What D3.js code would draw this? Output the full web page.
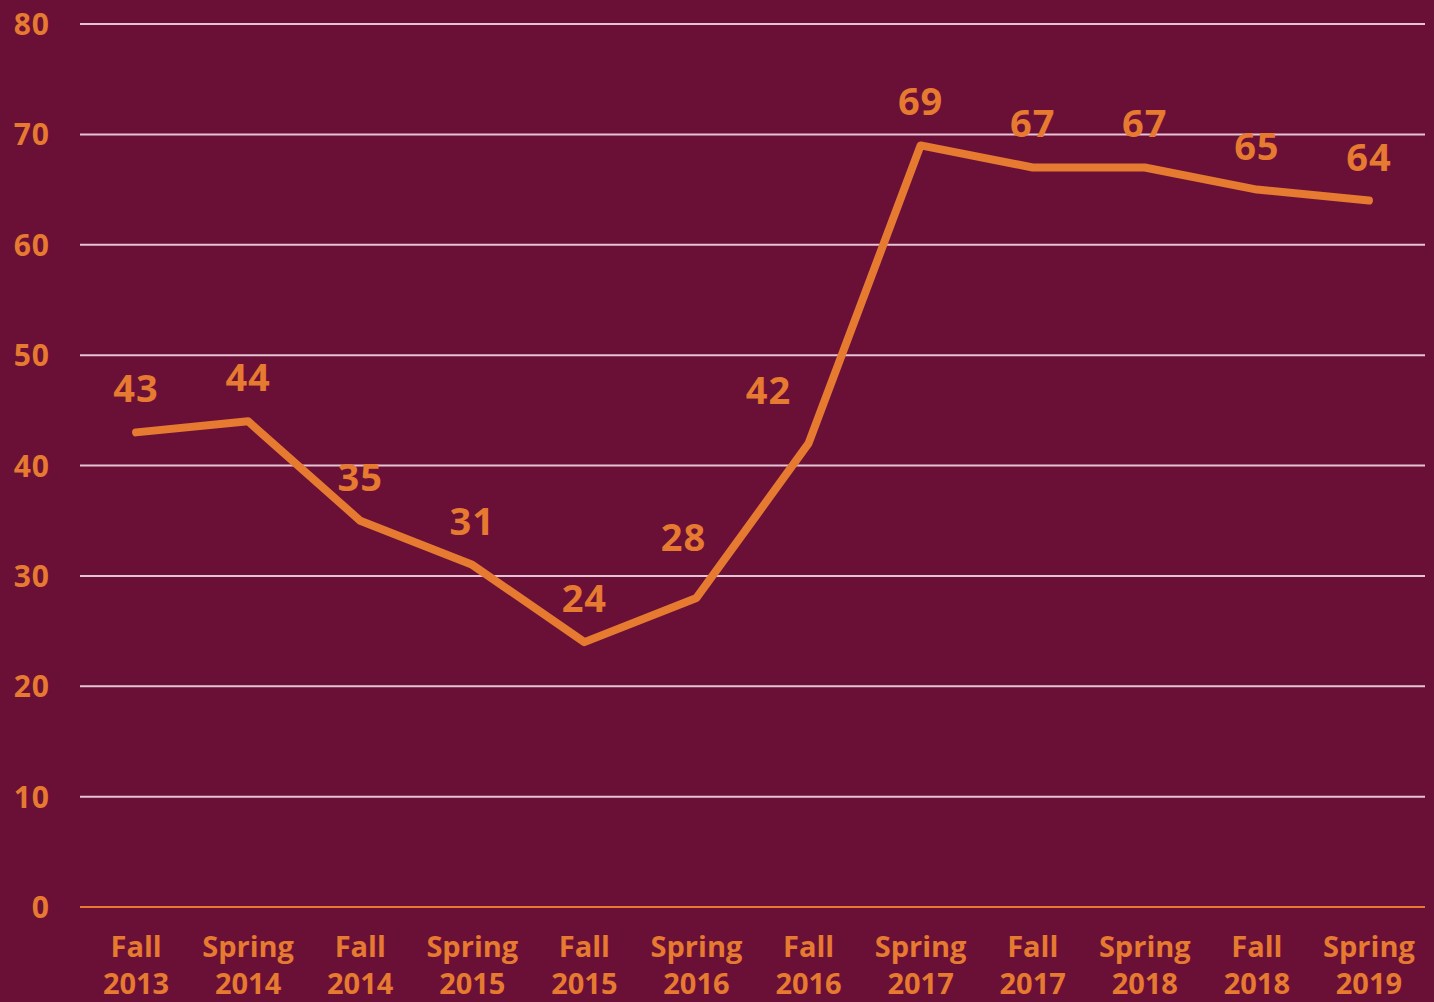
<!DOCTYPE html>
<html>
<head>
<meta charset="utf-8">
<script src="https://cdn.jsdelivr.net/npm/d3@7"></script>
<style>
  html, body { margin: 0; padding: 0; background: #6a1036; }
  svg { display: block; font-family: "Open Sans", Lato, sans-serif; }
</style>
</head>
<body>
<svg width="1434" height="1002"></svg>
<script>
// chart data
var terms = ['Fall', 'Spring', 'Fall', 'Spring', 'Fall', 'Spring', 'Fall', 'Spring', 'Fall', 'Spring', 'Fall', 'Spring'];
var years = ['2013', '2014', '2014', '2015', '2015', '2016', '2016', '2017', '2017', '2018', '2018', '2019'];
var values = [43, 44, 35, 31, 24, 28, 42, 69, 67, 67, 65, 64];
var yTicks = [0, 10, 20, 30, 40, 50, 60, 70, 80];

var categories = terms.map(function(t, i){ return t + ' ' + years[i]; });

var orange = '#e57a30';
var grid = '#e6c3d4';

var svg = d3.select('svg');
var margin = {left: 80, right: 9, top: 24, bottom: 95};
var W = 1434, H = 1002;

var x = d3.scalePoint()
  .domain(categories)
  .range([margin.left, W - margin.right])
  .padding(0.5);

var y = d3.scaleLinear()
  .domain([0, 80])
  .range([H - margin.bottom, margin.top]);

// gridlines
svg.append('g')
  .selectAll('line')
  .data(yTicks)
  .enter()
  .append('line')
    .attr('x1', margin.left)
    .attr('x2', W - margin.right)
    .attr('y1', function(d){ return y(d); })
    .attr('y2', function(d){ return y(d); })
    .attr('stroke', function(d){ return d === 0 ? orange : grid; })
    .attr('stroke-width', 2);

// y labels
svg.append('g')
  .selectAll('text')
  .data(yTicks)
  .enter()
  .append('text')
    .attr('x', 50)
    .attr('y', function(d){ return y(d) + 11; })
    .attr('text-anchor', 'end')
    .attr('fill', orange)
    .attr('font-size', 30)
    .attr('font-weight', 700)
    .attr('letter-spacing', 1)
    .text(function(d){ return d; });

// x labels (two lines)
var xl = svg.append('g')
  .selectAll('text')
  .data(categories)
  .enter()
  .append('text')
    .attr('text-anchor', 'middle')
    .attr('fill', orange)
    .attr('font-size', 29)
    .attr('font-weight', 700);
xl.append('tspan')
  .attr('x', function(d){ return x(d); })
  .attr('y', 957)
  .text(function(d, i){ return terms[i]; });
xl.append('tspan')
  .attr('x', function(d){ return x(d); })
  .attr('y', 994)
  .text(function(d, i){ return years[i]; });

// line
var line = d3.line()
  .x(function(d, i){ return x(categories[i]); })
  .y(function(d){ return y(d); });

svg.append('path')
  .datum(values)
  .attr('d', line)
  .attr('fill', 'none')
  .attr('stroke', orange)
  .attr('stroke-width', 8)
  .attr('stroke-linejoin', 'round')
  .attr('stroke-linecap', 'round');

// value labels; a couple sit off to the left of the steep climb
var nudge = {5: [-13, -17], 6: [-40, -9]};
svg.append('g')
  .selectAll('text')
  .data(values)
  .enter()
  .append('text')
    .attr('x', function(d, i){ return x(categories[i]) + (nudge[i] ? nudge[i][0] : 0); })
    .attr('y', function(d, i){ return y(d) - 30 + (nudge[i] ? nudge[i][1] : 0); })
    .attr('text-anchor', 'middle')
    .attr('fill', orange)
    .attr('font-size', 38)
    .attr('font-weight', 700)
    .attr('letter-spacing', 1)
    .text(function(d){ return d; });
</script>
</body>
</html>
